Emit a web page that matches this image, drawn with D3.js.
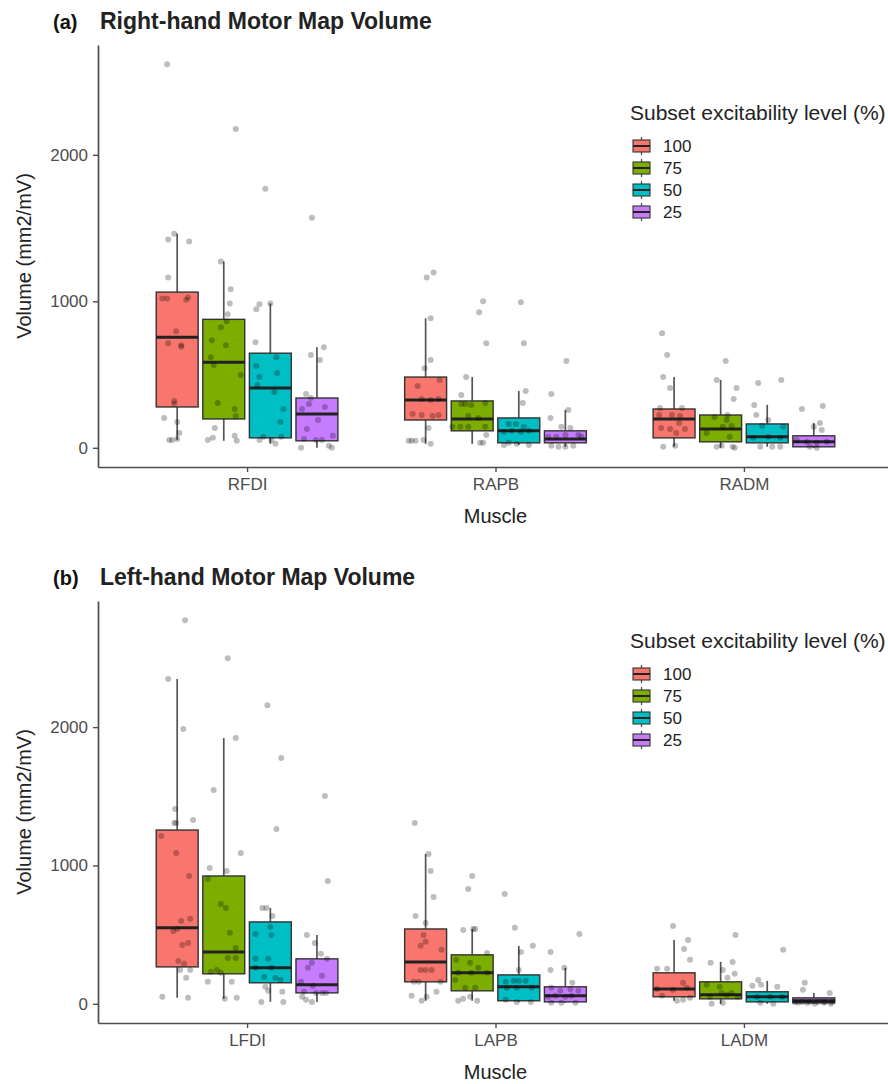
<!DOCTYPE html>
<html>
<head>
<meta charset="utf-8">
<title>Motor Map Volume</title>
<script src="https://cdn.jsdelivr.net/npm/d3@7"></script>
<style>
  body { margin: 0; background: white; }
  svg text { font-family: "Liberation Sans", Arial, Helvetica, sans-serif; }
</style>
</head>
<body>
<div id="chart"></div>
<script>
// categories
var levels = ["100", "75", "50", "25"];
var levelColors = ["#F8766D", "#7CAE00", "#00BFC4", "#C77CFF"];
var musclesRight = ["RFDI", "RAPB", "RADM"];
var musclesLeft = ["LFDI", "LAPB", "LADM"];
var yTickValues = [0, 1000, 2000];

// box stats per muscle, per level: [lower whisker, q1, median, q3, upper whisker]
var boxRight = [
  [[54, 279, 755, 1063, 1462], [48, 197, 585, 877, 1272], [27, 68, 408, 646, 986], [0, 48, 231, 340, 687]],
  [[27, 190, 327, 483, 884], [27, 116, 197, 320, 483], [20, 34, 116, 204, 388], [7, 34, 61, 116, 259]],
  [[7, 68, 197, 265, 483], [0, 41, 129, 224, 463], [7, 34, 75, 163, 293], [0, 7, 41, 82, 170]]
];
var boxLeft = [
  [[43, 267, 549, 1256, 2347], [36, 217, 375, 924, 1921], [14, 152, 260, 592, 693], [14, 79, 137, 325, 498]],
  [[22, 159, 303, 541, 1083], [22, 94, 224, 354, 541], [14, 22, 123, 209, 419], [7, 14, 58, 123, 260]],
  [[22, 51, 108, 224, 462], [0, 36, 65, 159, 303], [0, 14, 51, 87, 166], [0, 7, 22, 43, 79]]
];

// individual subjects: [volume, jitter (fraction of half box width)]
var ptsRight = [
  [
    [[2619,-0.48],[1462,-0.14],[1422,-0.43],[1408,0.57],[1163,-0.43],[1020,-0.71],[1020,-0.48],[1010,0.43],[1027,0.52],[796,-0.05],[714,-0.43],[700,0.19],[690,0.2],[320,-0.14],[303,-0.14],[204,-0.62],[177,0],[102,0.1],[54,-0.38],[54,-0.24],[60,0]],
    [[2177,0.57],[1272,-0.14],[1082,0.33],[986,0.29],[912,0.19],[864,0.14],[823,-0.14],[735,-0.57],[701,0.1],[619,-0.62],[565,-0.48],[497,0.81],[306,-0.29],[265,0.52],[218,0.57],[136,-0.43],[54,-0.76],[68,-0.52],[82,0.52],[48,0.62]],
    [[1769,-0.24],[986,0],[980,-0.52],[946,-0.67],[721,-0.71],[619,0.29],[558,-0.67],[483,-0.52],[429,-0.62],[510,0.33],[381,0.19],[265,0.62],[177,0.48],[75,-0.33],[54,0.05],[27,0.24],[75,0.52],[54,-0.52]],
    [[1571,-0.24],[687,0.33],[633,-0.29],[599,0.14],[367,-0.52],[340,-0.29],[299,-0.38],[265,-0.71],[279,0.38],[190,0.05],[129,-0.48],[61,-0.62],[54,-0.05],[54,0.24],[82,0.76],[0,-0.76],[14,0.57],[0,0.71]]
  ],
  [
    [[1197,0.38],[1163,0.05],[884,0.24],[599,0.24],[544,-0.05],[463,0.67],[422,-0.38],[333,-0.19],[327,0.24],[333,0.62],[231,-0.62],[224,-0.19],[218,0.33],[224,0.62],[136,0.14],[48,-0.81],[48,-0.67],[48,-0.48],[54,-0.1],[27,0.24]],
    [[1000,0.52],[925,0.33],[714,0.67],[483,-0.29],[361,-0.52],[299,-0.52],[299,-0.33],[293,-0.05],[306,0.62],[218,-0.19],[204,0.29],[143,-0.95],[143,-0.57],[143,-0.19],[143,0.62],[88,0.67],[34,0.38],[34,0.52]],
    [[993,0.1],[714,0.24],[388,0.33],[306,0.19],[163,-0.48],[163,-0.14],[143,0.24],[109,-0.71],[116,-0.33],[109,0.1],[116,0.48],[20,-0.71],[34,-0.48],[27,-0.1],[20,0.48]],
    [[592,0.05],[367,-0.67],[259,0.14],[204,-0.71],[143,-0.19],[136,0.24],[75,-0.81],[75,-0.43],[88,0],[88,0.62],[75,0.76],[14,-0.67],[7,-0.33],[7,0],[14,0.38]]
  ],
  [
    [[782,-0.57],[633,-0.33],[483,-0.52],[408,-0.19],[272,-0.67],[272,0.38],[224,-0.71],[224,-0.1],[218,0.29],[170,0.24],[136,-0.62],[129,-0.19],[129,0.52],[102,0.1],[7,-0.52],[14,0.05]],
    [[592,0.24],[463,-0.19],[408,0.76],[333,0.62],[211,-0.29],[224,0.33],[190,0.29],[150,0.52],[143,0.1],[102,-0.67],[75,0.43],[7,-0.19],[14,0.05],[7,0.57],[0,0.67]],
    [[463,0.67],[442,-0.43],[293,-0.62],[224,-0.52],[190,0.05],[150,-0.24],[143,0.76],[68,-0.67],[75,0.05],[68,0.62],[7,-0.33],[7,0.24],[7,0.62]],
    [[265,-0.57],[286,0.43],[170,0.29],[122,0.38],[143,0],[54,-0.81],[41,-0.33],[34,0.14],[41,0.62],[7,-0.19],[0,0.14]]
  ]
];
var ptsLeft = [
  [
    [[2773,0.38],[2347,-0.43],[1986,0.29],[1408,-0.1],[1307,-0.14],[1307,-0.05],[1328,0.76],[1213,-0.76],[1090,-0.05],[924,0.57],[599,0.19],[614,0.62],[527,-0.19],[541,0],[426,0.24],[440,0.52],[310,0.05],[289,0.33],[245,0.14],[245,0.62],[188,0.43],[51,-0.71],[43,0.52]],
    [[2498,0.19],[1921,0.57],[1545,-0.48],[1090,0.81],[982,-0.67],[960,0.14],[902,-0.76],[722,-0.14],[693,0.1],[513,0.29],[404,0.57],[332,0.19],[332,0.57],[231,-0.62],[245,-0.33],[224,-0.14],[159,-0.76],[159,0.38],[36,0.05],[43,0.62]],
    [[2159,-0.14],[1776,0.52],[1264,0.29],[693,-0.38],[693,-0.19],[635,0.1],[556,0],[505,-0.71],[498,0.05],[325,-0.71],[325,-0.1],[260,-0.71],[260,0.05],[195,-0.29],[188,0.24],[173,0.48],[123,-0.24],[94,-0.1],[87,0.57],[14,-0.43],[14,0.62]],
    [[1502,0.38],[888,0.52],[498,-0.48],[440,-0.1],[361,0.19],[325,0.48],[296,-0.24],[260,-0.43],[202,0.24],[159,-0.76],[130,-0.19],[79,0.24],[87,-0.62],[51,-0.71],[29,-0.52],[14,-0.24],[79,-0.05],[79,0.43]]
  ],
  [
    [[1307,-0.52],[1083,0.14],[960,0.24],[773,0.38],[635,-0.48],[585,0],[498,-0.1],[448,0],[419,-0.24],[390,0.76],[245,-0.24],[245,0],[245,0.29],[159,-0.57],[159,-0.33],[159,0.71],[58,-0.67],[87,0.52],[22,-0.19],[51,0.05]],
    [[924,0],[830,-0.19],[534,-0.43],[541,0.05],[541,0.14],[368,0.71],[318,-0.76],[296,-0.1],[260,0.29],[224,-0.67],[224,-0.05],[224,0.71],[173,-0.81],[116,-0.33],[116,0.14],[22,-0.67],[36,-0.43],[51,-0.1],[22,0.24]],
    [[794,-0.67],[549,-0.19],[419,0.67],[375,0.1],[245,0],[159,-0.62],[166,-0.24],[166,0],[166,0.33],[116,-0.57],[116,-0.1],[116,0.62],[29,-0.62],[14,-0.1],[14,0.57]],
    [[505,0.67],[375,-0.71],[245,-0.71],[260,-0.05],[152,0.33],[116,-0.67],[94,-0.24],[108,0.24],[94,0.62],[51,-0.81],[58,-0.48],[51,0],[58,0.29],[7,-0.67],[7,-0.19],[7,0.48]]
  ],
  [
    [[563,-0.05],[462,0.67],[397,0.48],[318,0.76],[253,-0.81],[253,-0.33],[152,0.43],[108,-0.81],[101,-0.05],[116,0.62],[22,0.14],[29,0.43],[43,0.76],[58,-0.57]],
    [[498,0.71],[296,-0.48],[303,0.57],[245,0.1],[217,0.67],[188,0.33],[137,-0.67],[123,-0.05],[79,0.05],[79,0.52],[51,-0.52],[65,0.29],[51,0.81],[0,-0.43],[7,0.1]],
    [[390,0.76],[173,-0.43],[130,-0.71],[137,-0.29],[123,0.48],[51,-0.48],[51,0.14],[51,0.71],[7,-0.33],[0,0.29]],
    [[152,-0.43],[101,-0.52],[79,0.76],[14,-0.9],[14,-0.57],[14,-0.19],[14,0.19],[14,0.52],[14,0.86],[7,-0.76],[7,-0.33],[0,0.05],[7,0.48],[0,0.81]]
  ]
];

var width = 888, height = 1084;
var svg = d3.select("#chart").append("svg")
  .attr("width", width)
  .attr("height", height);

var panels = [
  { tag: "(a)", title: "Right-hand Motor Map Volume", top: 45, bottom: 467,
    muscles: musclesRight, boxes: boxRight, pts: ptsRight, legendY: 146 },
  { tag: "(b)", title: "Left-hand Motor Map Volume", top: 601, bottom: 1023,
    muscles: musclesLeft, boxes: boxLeft, pts: ptsLeft, legendY: 674 }
];

var axisColor = "#4d4d4d";

panels.forEach(drawPanel);

function drawPanel(p) {
  var g = svg.append("g");
  var left = 98, right = 893;

  // y limits like ggplot: data range expanded by 5%
  var all = [];
  p.pts.forEach(function(m) { m.forEach(function(l) { l.forEach(function(d) { all.push(d[0]); }); }); });
  var ymin = d3.min(all), ymax = d3.max(all);
  var pad = (ymax - ymin) * 0.05;

  var y = d3.scaleLinear().domain([ymin - pad, ymax + pad]).range([p.bottom, p.top]);
  var x = d3.scalePoint().domain(p.muscles).range([left, right]).padding(0.6);

  var slot = x.step() * 0.75 / levels.length;
  var boxW = slot * 0.9;
  var color = d3.scaleOrdinal().domain(levels).range(levelColors);

  // boxes
  p.muscles.forEach(function(m, mi) {
    levels.forEach(function(lv, li) {
      var s = p.boxes[mi][li];
      var cx = x(m) + (li - 1.5) * slot;
      var bg = g.append("g");
      bg.append("line")
        .attr("x1", cx).attr("x2", cx)
        .attr("y1", y(s[0])).attr("y2", y(s[4]))
        .style("stroke", "#555").style("stroke-width", 1.7);
      bg.append("rect")
        .attr("x", cx - boxW / 2)
        .attr("y", y(s[3]))
        .attr("width", boxW)
        .attr("height", y(s[1]) - y(s[3]))
        .style("fill", color(lv))
        .style("stroke", "#333")
        .style("stroke-width", 1.4);
      bg.append("line")
        .attr("x1", cx - boxW / 2).attr("x2", cx + boxW / 2)
        .attr("y1", y(s[2])).attr("y2", y(s[2]))
        .style("stroke", "#222").style("stroke-width", 3);
    });
  });

  // jittered points
  p.muscles.forEach(function(m, mi) {
    levels.forEach(function(lv, li) {
      var cx = x(m) + (li - 1.5) * slot;
      g.selectAll(null)
        .data(p.pts[mi][li])
        .enter().append("circle")
        .attr("cx", function(d) { return cx + d[1] * boxW / 2; })
        .attr("cy", function(d) { return y(d[0]); })
        .attr("r", 3)
        .style("fill", "black")
        .style("fill-opacity", 0.26);
    });
  });

  // y axis
  var ya = g.append("g")
    .attr("transform", "translate(" + left + ",0)")
    .call(d3.axisLeft(y).tickValues(yTickValues).tickFormat(d3.format("d"))
      .tickSize(5).tickSizeOuter(0).tickPadding(5));
  ya.select(".domain").style("stroke", axisColor).style("stroke-width", 1.7);
  ya.selectAll(".tick line").style("stroke", axisColor).style("stroke-width", 1.4);
  ya.selectAll(".tick text")
    .style("font-size", "17px")
    .style("fill", axisColor)
    .style("font-family", "'Liberation Sans', Arial, sans-serif");

  // x axis
  var xa = g.append("g")
    .attr("transform", "translate(0," + p.bottom + ")")
    .call(d3.axisBottom(x).tickSize(5).tickSizeOuter(0).tickPadding(6));
  xa.select(".domain").style("stroke", axisColor).style("stroke-width", 1.7);
  xa.selectAll(".tick line").style("stroke", axisColor).style("stroke-width", 1.4);
  xa.selectAll(".tick text")
    .style("font-size", "17px")
    .style("fill", axisColor)
    .style("font-family", "'Liberation Sans', Arial, sans-serif");

  // axis titles
  g.append("text")
    .attr("transform", "translate(31," + (p.top + p.bottom) / 2 + ") rotate(-90)")
    .attr("text-anchor", "middle")
    .style("font-size", "20px")
    .style("fill", "#222")
    .text("Volume (mm2/mV)");
  g.append("text")
    .attr("x", x(p.muscles[1]))
    .attr("y", p.bottom + 56)
    .attr("text-anchor", "middle")
    .style("font-size", "20px")
    .style("fill", "#222")
    .text("Muscle");

  // title + tag
  g.append("text")
    .attr("x", 53).attr("y", p.top - 16)
    .style("font-size", "20px").style("font-weight", "bold").style("fill", "#111")
    .text(p.tag);
  g.append("text")
    .attr("x", 100).attr("y", p.top - 16)
    .style("font-size", "23px").style("font-weight", "bold").style("fill", "#222")
    .text(p.title);

  // legend
  var lg = g.append("g").attr("transform", "translate(630," + p.legendY + ")");
  lg.append("text")
    .attr("x", 0).attr("y", -26)
    .style("font-size", "21px").style("fill", "#222")
    .text("Subset excitability level (%)");
  levels.forEach(function(lv, i) {
    var k = lg.append("g").attr("transform", "translate(0," + i * 22 + ")");
    k.append("line")
      .attr("x1", 11.5).attr("x2", 11.5).attr("y1", -9).attr("y2", 9)
      .style("stroke", "#555").style("stroke-width", 1.3);
    k.append("rect")
      .attr("x", 3).attr("y", -6).attr("width", 17).attr("height", 12)
      .style("fill", color(lv)).style("stroke", "#333").style("stroke-width", 1.1);
    k.append("line")
      .attr("x1", 3).attr("x2", 20).attr("y1", 0).attr("y2", 0)
      .style("stroke", "#222").style("stroke-width", 2);
    k.append("text")
      .attr("x", 33).attr("y", 6)
      .style("font-size", "17px").style("fill", "#222")
      .text(lv);
  });
}
</script>
</body>
</html>
